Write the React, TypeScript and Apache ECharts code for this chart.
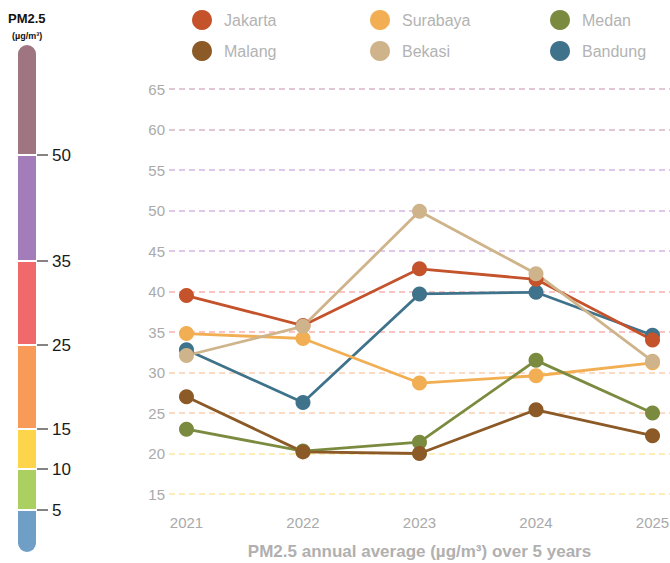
import React, { useEffect, useRef } from "react";
import * as echarts from "echarts";

const years = [2021, 2022, 2023, 2024, 2025];
const jakarta = [39.5, 35.8, 42.8, 41.5, 34.0];
const surabaya = [34.8, 34.2, 28.7, 29.6, 31.2];
const medan = [23.0, 20.3, 21.4, 31.5, 25.0];
const malang = [27.0, 20.2, 20.0, 25.4, 22.2];
const bekasi = [32.1, 35.7, 49.9, 42.2, 31.4];
const bandung = [32.8, 26.3, 39.7, 39.9, 34.6];

const yTicks = [15, 20, 25, 30, 35, 40, 45, 50, 55, 60, 65];
const bandThresholds = [5, 10, 15, 25, 35, 50];
const bandColors = ["#6f9fc7", "#abcf61", "#fdd54b", "#f89b59", "#f06a6b", "#a37db9", "#9e7580"];

const seriesDefs = [
  { name: "Bandung", data: bandung, color: "#3f728b" },
  { name: "Surabaya", data: surabaya, color: "#f1ae52" },
  { name: "Medan", data: medan, color: "#7a8b3f" },
  { name: "Malang", data: malang, color: "#8b5a26" },
  { name: "Jakarta", data: jakarta, color: "#c4532c" },
  { name: "Bekasi", data: bekasi, color: "#cfb48b" },
];

const gridColorFor = (v: number) => {
  if (v >= 60) return "#d6b8c6";
  if (v >= 45) return "#d3b8e4";
  if (v >= 35) return "#fbb0b0";
  if (v >= 25) return "#fdcfb0";
  return "#fde7a0";
};

export default function App() {
  const ref = useRef<HTMLDivElement>(null);
  useEffect(() => {
    if (!ref.current) return;
    const chart = echarts.init(ref.current, null, { renderer: "svg" });

    // color bar geometry (layout constants)
    const barX = 18;
    const barW = 18;
    const segBounds = [552, 510, 469, 429, 345, 261, 155, 45]; // pixel bounds bottom->top
    const graphics: any[] = [];
    for (let i = 0; i < bandColors.length; i++) {
      const yBottom = segBounds[i];
      const yTop = segBounds[i + 1];
      const first = i === 0;
      const last = i === bandColors.length - 1;
      graphics.push({
        type: "rect",
        shape: {
          x: barX,
          y: yTop + (last ? 0 : 1),
          width: barW,
          height: yBottom - yTop - (last ? 1 : first ? 1 : 2),
          r: last ? [9, 9, 0, 0] : first ? [0, 0, 9, 9] : 0,
        },
        style: { fill: bandColors[i] },
        silent: true,
      });
    }
    bandThresholds.forEach((t, i) => {
      const y = segBounds[i + 1];
      graphics.push({
        type: "line",
        shape: { x1: barX + barW + 1, y1: y, x2: barX + barW + 12, y2: y },
        style: { stroke: "#333", lineWidth: 1.2 },
        silent: true,
      });
      graphics.push({
        type: "text",
        x: 52,
        y: y,
        style: {
          text: String(t),
          fill: "#1a1a1a",
          font: "17px 'Liberation Sans', Arial, sans-serif",
          textVerticalAlign: "middle",
        },
        silent: true,
      });
    });
    graphics.push({
      type: "text",
      x: 8,
      y: 18,
      style: {
        text: "PM2.5",
        fill: "#111",
        font: "bold 13px 'Liberation Sans', Arial, sans-serif",
        textVerticalAlign: "middle",
      },
    });
    graphics.push({
      type: "text",
      x: 12,
      y: 36,
      style: {
        text: "(µg/m³)",
        fill: "#111",
        font: "bold 9px 'Liberation Sans', Arial, sans-serif",
        textVerticalAlign: "middle",
      },
    });

    const legendCommon = {
      orient: "vertical" as const,
      icon: "circle",
      itemWidth: 20,
      itemHeight: 20,
      itemGap: 11,
      padding: 0,
      selectedMode: false,
      textStyle: {
        color: "#b3b3b3",
        fontSize: 16,
        fontFamily: "'Liberation Sans', Arial, sans-serif",
        padding: [0, 0, 0, 7],
      },
    };

    chart.setOption({
      animation: false,
      graphic: graphics,
      legend: [
        { ...legendCommon, left: 192, top: 10, data: ["Jakarta", "Malang"] },
        { ...legendCommon, left: 370, top: 10, data: ["Surabaya", "Bekasi"] },
        { ...legendCommon, left: 550, top: 10, data: ["Medan", "Bandung"] },
      ],
      grid: { left: 169, right: 0, top: 89, bottom: 69, outerBoundsMode: "none", containLabel: false },
      xAxis: {
        type: "value",
        min: 2020.85,
        max: 2025.15,
        axisLine: { show: false },
        axisTick: { show: false },
        splitLine: { show: false },
        axisLabel: {
          customValues: years,
          formatter: (v: number) => String(v),
          color: "#aaaaaa",
          fontSize: 15,
          margin: 21,
          fontFamily: "'Liberation Sans', Arial, sans-serif",
        },
        name: "PM2.5 annual average (µg/m³) over 5 years",
        nameLocation: "middle",
        nameGap: 49,
        nameTextStyle: {
          color: "#b0b0b0",
          fontSize: 17,
          fontWeight: "bold",
          fontFamily: "'Liberation Sans Narrow', 'Liberation Sans', Arial, sans-serif",
        },
      },
      yAxis: {
        type: "value",
        min: 15,
        max: 65,
        interval: 5,
        axisLine: { show: false },
        axisTick: { show: false },
        axisLabel: {
          color: "#aaaaaa",
          fontSize: 15,
          margin: 4,
          fontFamily: "'Liberation Sans', Arial, sans-serif",
        },
        splitLine: {
          show: true,
          lineStyle: {
            color: yTicks.map(gridColorFor),
            type: [6, 4],
            width: 1.5,
          },
        },
      },
      series: seriesDefs.map((s) => ({
        name: s.name,
        type: "line",
        data: years.map((y, i) => [y, s.data[i]]),
        symbol: "circle",
        symbolSize: 15,
        color: s.color,
        lineStyle: { width: 2.8, color: s.color },
        itemStyle: { color: s.color },
        emphasis: { disabled: true },
      })),
    });
    return () => chart.dispose();
  }, []);
  return <div ref={ref} style={{ width: 670, height: 563, position: "absolute", left: 0, top: 0 }} />;
}
